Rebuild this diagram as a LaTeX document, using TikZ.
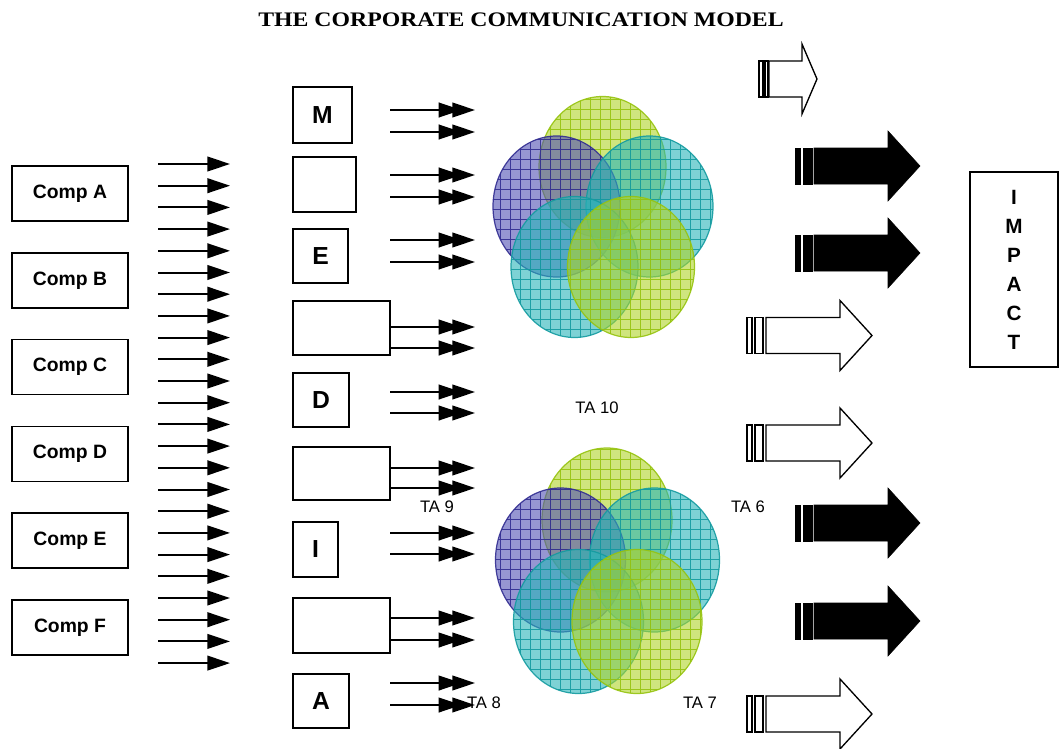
\documentclass[tikz,border=0pt]{standalone}
\usepackage{fontspec}
\setmainfont{Liberation Serif}
\setsansfont{Liberation Sans}
\newfontfamily\titlefont[FakeStretch=1.15]{Liberation Serif}
\usetikzlibrary{arrows.meta,patterns.meta}

\definecolor{ygline}{RGB}{150,195,15}
\definecolor{ygfill}{RGB}{175,212,40}
\definecolor{tealline}{RGB}{20,155,160}
\definecolor{tealfill}{RGB}{40,180,185}
\definecolor{purpline}{RGB}{50,45,145}
\definecolor{purpfill}{RGB}{80,80,180}

% #1 style, #2 centre y, #3-#4 first stripe, #5-#6 second stripe, #7 body start, #8 head base, #9 tip
\newcommand{\stripearrow}[9]{%
  \draw[#1] (#3,#2-18) rectangle (#4,#2+18);
  \draw[#1] (#5,#2-18) rectangle (#6,#2+18);
  \draw[#1] (#7,#2-18) -- (#8,#2-18) -- (#8,#2-35) -- (#9,#2)
    -- (#8,#2+35) -- (#8,#2+18) -- (#7,#2+18) -- cycle;}

\begin{document}
\begin{tikzpicture}[x=0.75pt,y=-0.75pt,
    comp node/.style={draw,line width=1.1pt,minimum width=87pt,minimum height=41.25pt,
      font=\sffamily\bfseries\fontsize{14.5}{16}\selectfont},
    tool node/.style={draw,line width=1.1pt,inner sep=0pt,
      font=\sffamily\bfseries\fontsize{18.5}{20}\selectfont},
    ta node/.style={font=\sffamily\fontsize{12.5}{14}\selectfont},
    feed/.style={line width=1.5pt,-{Triangle[length=17pt,width=11pt]}},
    push/.style={line width=1.5pt,
      -{Triangle[length=17pt,width=11pt,sep=-6.75pt]Triangle[length=17pt,width=11pt]}},
    venn/.style 2 args={preaction={fill=#1,fill opacity=.6},
      pattern={Hatch[angle=0,distance=7.5pt,line width=.5pt]},pattern color=#2,
      fill opacity=.6,draw=#2,draw opacity=.9,line width=.9pt},
    hollow/.style={draw=black,fill=white,line width=1pt},
    solid/.style={fill=black}]

\useasboundingbox (0,0) rectangle (1060,749);

\node[font=\titlefont\bfseries\fontsize{15.5}{18}\selectfont] (title) at (521,20) {THE CORPORATE COMMUNICATION MODEL};

% companies
\foreach \name [count=\i from 0] in {A,B,C,D,E,F}
  \node[comp node] (comp\name) at (70,193.5+86.8*\i) {Comp \name};

% arrows out of the companies
\foreach \i in {0,...,23}{
  \coordinate (fs\i) at (158,164+21.7*\i);
  \coordinate (fe\i) at (230,164+21.7*\i);
  \path[feed] (fs\i) edge (fe\i);
}

% tools
\node[tool node,minimum width=44.25pt,minimum height=42pt]    (M)  at (322.5,115)   {M};
\node[tool node,minimum width=47.25pt,minimum height=41.25pt] (t2) at (324.5,184.5) {};
\node[tool node,minimum width=41.25pt,minimum height=40.5pt]  (E)  at (320.5,256)   {E};
\node[tool node,minimum width=72.75pt,minimum height=40.5pt]  (t4) at (341.5,328)   {};
\node[tool node,minimum width=42pt,minimum height=40.5pt]     (D)  at (321,400)     {D};
\node[tool node,minimum width=72.75pt,minimum height=39.75pt] (t6) at (341.5,473.5) {};
\node[tool node,minimum width=33.75pt,minimum height=41.25pt] (I)  at (315.5,549.5) {I};
\node[tool node,minimum width=72.75pt,minimum height=41.25pt] (t8) at (341.5,625.5) {};
\node[tool node,minimum width=42pt,minimum height=40.5pt]     (A)  at (321,701)     {A};

% arrows towards the target audiences
\foreach \y [count=\i] in {110,132,175,197,240,262,327,348,392,413,468,488,533,554,618,640,683,705}{
  \coordinate (ps\i) at (390,\y);
  \coordinate (pe\i) at (475,\y);
  \path[push] (ps\i) edge (pe\i);
}

% target audiences, upper group
\path[venn={ygfill}{ygline}]     (602.5,167)   ellipse [x radius=63.5,y radius=70.5];
\path[venn={purpfill}{purpline}] (556.5,206.5) ellipse [x radius=63.5,y radius=70.5];
\path[venn={tealfill}{tealline}] (649.5,206.5) ellipse [x radius=63.5,y radius=70.5];
\path[venn={tealfill}{tealline}] (574.5,267)   ellipse [x radius=63.5,y radius=70.5];
\path[venn={ygfill}{ygline}]     (631,267)     ellipse [x radius=63.5,y radius=70.5];

% target audiences, lower group
\path[venn={ygfill}{ygline}]     (607,520)     ellipse [x radius=65,y radius=72];
\path[venn={purpfill}{purpline}] (560.5,560)   ellipse [x radius=65,y radius=72];
\path[venn={tealfill}{tealline}] (654.5,560)   ellipse [x radius=65,y radius=72];
\path[venn={tealfill}{tealline}] (578.5,621.5) ellipse [x radius=65,y radius=72];
\path[venn={ygfill}{ygline}]     (637,621.5)   ellipse [x radius=65,y radius=72];

\node[ta node] (ta10) at (597,408) {TA 10};
\node[ta node] (ta9)  at (437,507) {TA 9};
\node[ta node] (ta6)  at (748,507) {TA 6};
\node[ta node] (ta8)  at (484,703) {TA 8};
\node[ta node] (ta7)  at (700,703) {TA 7};

% big arrows
\stripearrow{hollow}{79}{759}{763}{765}{768}{769}{802}{817}
\stripearrow{solid}{166}{795}{800}{803}{812}{814}{888}{920}
\stripearrow{solid}{253}{795}{800}{803}{812}{814}{888}{920}
\stripearrow{hollow}{335.5}{747}{752}{755}{763}{766}{840}{872}
\stripearrow{hollow}{443}{747}{752}{755}{763}{766}{840}{872}
\stripearrow{solid}{523}{795}{800}{803}{812}{814}{888}{920}
\stripearrow{solid}{621}{795}{800}{803}{812}{814}{888}{920}
\stripearrow{hollow}{714}{747}{752}{755}{763}{766}{840}{872}

\node[draw,line width=1.1pt,minimum width=66pt,minimum height=146.25pt,align=center,
  font=\sffamily\bfseries\fontsize{15.5}{21.75}\selectfont] (impact) at (1014,269.5)
  {I\\M\\P\\A\\C\\T};
\end{tikzpicture}
\end{document}
